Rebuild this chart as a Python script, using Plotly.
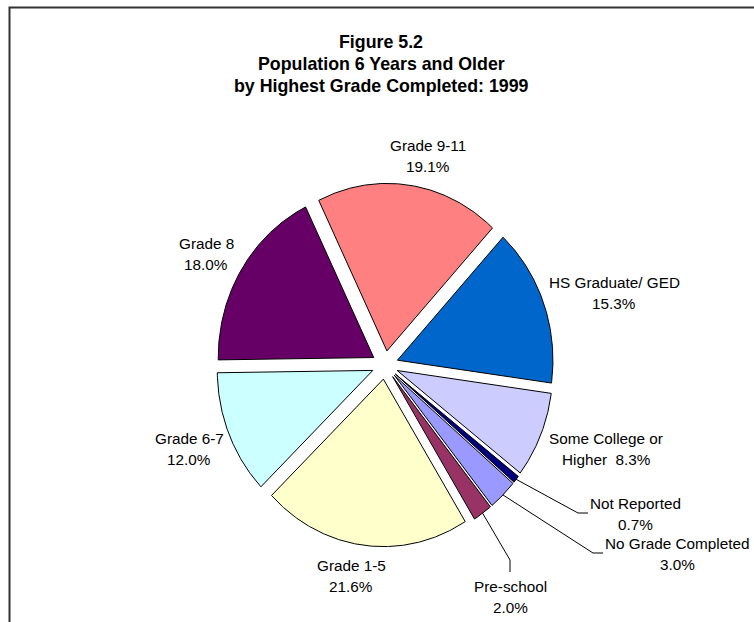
import numpy as np
import plotly.graph_objects as go

# ---------------- data ----------------
categories = ["Grade 9-11", "HS Graduate/ GED", "Some College or Higher", "Not Reported",
              "No Grade Completed", "Pre-school", "Grade 1-5", "Grade 6-7", "Grade 8"]
percent = [19.1, 15.3, 8.3, 0.7, 3.0, 2.0, 21.6, 12.0, 18.0]
colors = ["#FF8080", "#0066CC", "#CCCCFF", "#000080", "#9999FF",
          "#993366", "#FFFFCC", "#CCFFFF", "#660066"]
# label text lines (percent appended from data)
label_line1 = ["Grade 9-11", "HS Graduate/ GED", "Some College or", "Not Reported",
               "No Grade Completed", "Pre-school", "Grade 1-5", "Grade 6-7", "Grade 8"]
label_line2_prefix = ["", "", "Higher  ", "", "", "", "", "", ""]
title_lines = ["Figure 5.2", "Population 6 Years and Older", "by Highest Grade Completed: 1999"]

# ---------------- layout / style ----------------
W, H = 754, 622
CX, CY = 385.0, 365.0      # pie centre (px)
RX, RY = 155.5, 167.5      # pie radii (px) - the original pie is slightly oval
PULL = 0.085               # explode fraction of radius
ROTATION = -26.0           # first slice start angle, degrees clockwise from 12 o'clock
FONT = "Arial, Liberation Sans, Helvetica, sans-serif"
LABEL_SIZE = 15.3
LINE_H = 21
# label centre x, first-line centre y (px)
label_pos = [(428, 145), (614, 282), (606, 438), (635, 503), (677, 543),
             (510, 586), (351, 565), (189, 438), (206, 243)]
# leader lines for the small slices: index -> list of elbow / end points (px)
leaders = {3: [(578, 513), (588, 513)],
           4: [(593, 553), (603, 553)],
           5: [(510, 560), (510, 572)]}

fig = go.Figure()

total = sum(percent)
cum = 0.0
outer_mid = []
for i, v in enumerate(percent):
    a0 = ROTATION + 360.0 * cum / total
    a1 = ROTATION + 360.0 * (cum + v) / total
    cum += v
    mid = np.radians((a0 + a1) / 2)
    sx = CX + PULL * RX * np.sin(mid)
    sy = CY - PULL * RY * np.cos(mid)
    t = np.radians(np.linspace(a0, a1, max(4, int(abs(a1 - a0) * 2))))
    xs = np.concatenate([[sx], sx + RX * np.sin(t), [sx]])
    ys = np.concatenate([[sy], sy - RY * np.cos(t), [sy]])
    outer_mid.append((sx + RX * np.sin(mid), sy - RY * np.cos(mid)))
    fig.add_trace(go.Scatter(x=xs, y=ys, mode="lines", fill="toself",
                             fillcolor=colors[i], line=dict(color="black", width=1),
                             hoverinfo="text", text=f"{categories[i]}: {v:.1f}%",
                             showlegend=False))

# leader lines
for i, pts in leaders.items():
    lx = [outer_mid[i][0]] + [p[0] for p in pts]
    ly = [outer_mid[i][1]] + [p[1] for p in pts]
    fig.add_trace(go.Scatter(x=lx, y=ly, mode="lines",
                             line=dict(color="black", width=1),
                             hoverinfo="skip", showlegend=False))

annotations = []
for i, v in enumerate(percent):
    x0, y0 = label_pos[i]
    annotations.append(dict(x=x0, y=y0, xref="x", yref="y", text=label_line1[i],
                            showarrow=False, xanchor="center", yanchor="middle",
                            font=dict(family=FONT, size=LABEL_SIZE, color="black")))
    annotations.append(dict(x=x0, y=y0 + LINE_H, xref="x", yref="y",
                            text=f"{label_line2_prefix[i]}{v:.1f}%",
                            showarrow=False, xanchor="center", yanchor="middle",
                            font=dict(family=FONT, size=LABEL_SIZE, color="black")))

for k, line in enumerate(title_lines):
    annotations.append(dict(x=381, y=42 + 22 * k, xref="x", yref="y",
                            text=f"<b>{line}</b>", showarrow=False,
                            xanchor="center", yanchor="middle",
                            font=dict(family=FONT, size=17.8, color="black")))

fig.update_layout(
    width=W, height=H,
    margin=dict(l=0, r=0, t=0, b=0),
    paper_bgcolor="white", plot_bgcolor="white",
    showlegend=False,
    xaxis=dict(range=[0, W], visible=False, fixedrange=True),
    yaxis=dict(range=[H, 0], visible=False, fixedrange=True),
    annotations=annotations,
    shapes=[dict(type="rect", xref="paper", yref="paper",
                 x0=9.5 / W, y0=-0.1, x1=1.1, y1=1 - 7.5 / H,
                 line=dict(color="#333333", width=2), layer="above")],
)

fig.write_html("out.html", config={"displayModeBar": False},
               post_script="document.body.style.margin='0';document.body.style.overflow='hidden';")
